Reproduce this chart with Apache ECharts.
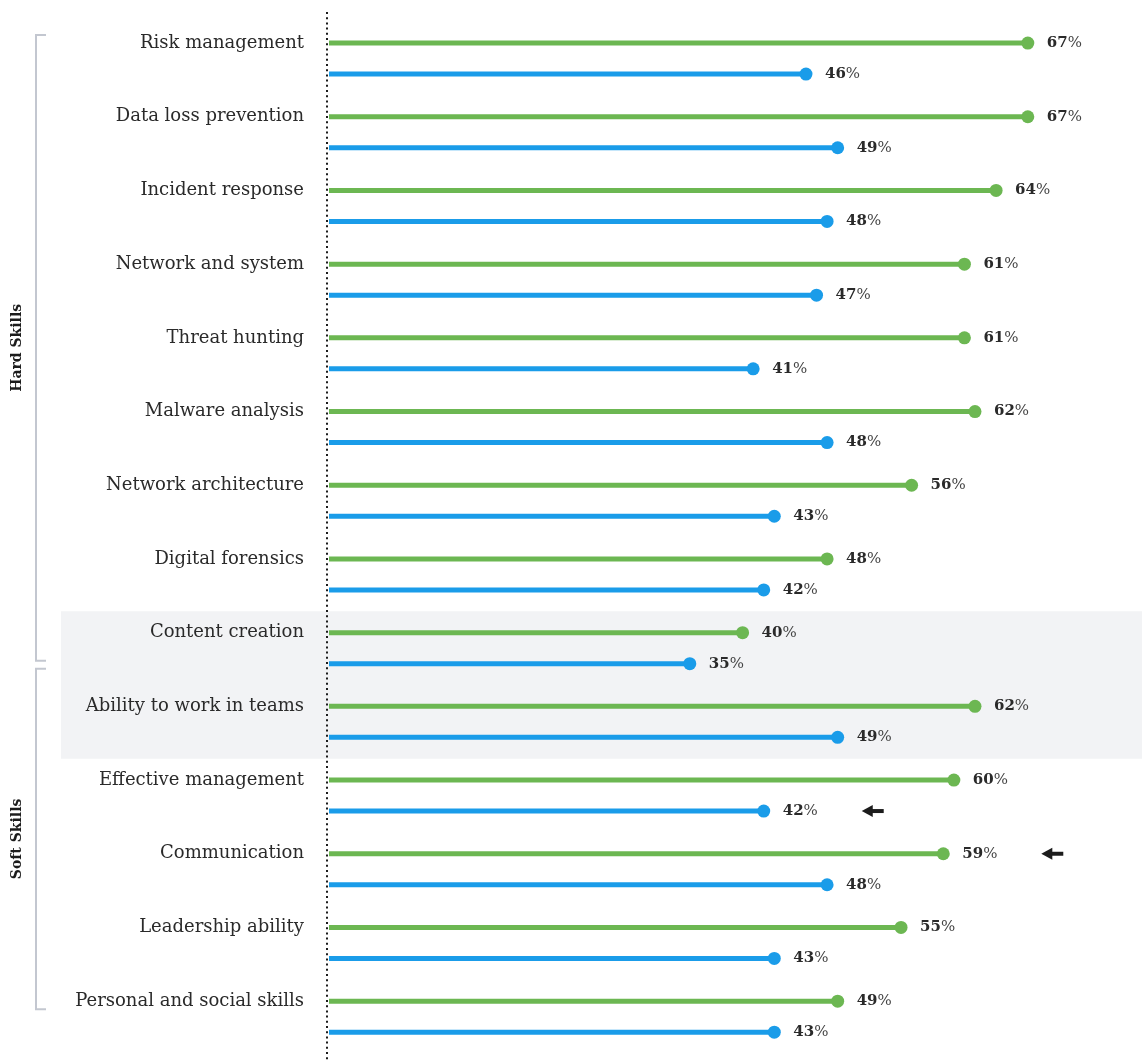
<!DOCTYPE html>
<html>
<head>
<meta charset="utf-8">
<script src="https://cdn.jsdelivr.net/npm/echarts@6/dist/echarts.min.js"></script>
<style>
  html, body { margin: 0; padding: 0; background: #ffffff; }
  #chart { width: 1142px; height: 1062px; }
</style>
</head>
<body>
<div id="chart"></div>
<script>
// Skills asked for, top to bottom
const skills = [
  'Risk management', 'Data loss prevention', 'Incident response', 'Network and system',
  'Threat hunting', 'Malware analysis', 'Network architecture', 'Digital forensics',
  'Content creation', 'Ability to work in teams', 'Effective management', 'Communication',
  'Leadership ability', 'Personal and social skills'
];
// Share in percent, upper (green) and lower (blue) row of each skill
const greenValues = [67, 67, 64, 61, 61, 62, 56, 48, 40, 62, 60, 59, 55, 49];
const blueValues  = [46, 49, 48, 47, 41, 48, 43, 42, 35, 49, 42, 48, 43, 43];

// Skills shaded in a grey band
const highlightedSkills = ['Content creation', 'Ability to work in teams'];
// Bracketed skill groups on the left
const skillGroups = [
  { name: 'Hard Skills', first: 'Risk management', last: 'Content creation' },
  { name: 'Soft Skills', first: 'Ability to work in teams', last: 'Personal and social skills' }
];
// Rows that carry an arrow pointer (row 0 = green, row 1 = blue)
const arrowRows = [
  { skill: 'Effective management', row: 1 },
  { skill: 'Communication', row: 0 }
];

const GREEN = '#6cb752';
const BLUE = '#1a9ce9';
const TEXT = '#2a2a2a';
const SERIF = '"DejaVu Serif", serif';
const X_MIN = 0.75;
const X_MAX = 75;
const ROW_OFFSET = 15.5;

function lollipopRenderer(rowIndex, color) {
  const offset = rowIndex === 0 ? -ROW_OFFSET : ROW_OFFSET;
  return function (params, api) {
    const value = api.value(0);
    const cat = api.value(1);
    const start = api.coord([X_MIN, cat]);
    const end = api.coord([value, cat]);
    const y = end[1] + offset;
    const children = [
      { type: 'line', shape: { x1: start[0] + 1, y1: y, x2: end[0], y2: y },
        style: { stroke: color, lineWidth: 5 } },
      { type: 'circle', shape: { cx: end[0], cy: y, r: 6.5 }, style: { fill: color } },
      { type: 'text', x: end[0] + 19, y: y,
        style: {
          text: '{b|' + value + '}{p|%}',
          verticalAlign: 'middle', align: 'left',
          rich: {
            b: { fontFamily: SERIF, fontWeight: 'bold', fontSize: 15, fill: TEXT },
            p: { fontFamily: SERIF, fontSize: 15, fill: '#444' }
          }
        } }
    ];
    const hasArrow = arrowRows.some(a => a.row === rowIndex && skills.indexOf(a.skill) === cat);
    if (hasArrow) {
      const tip = end[0] + 98;
      children.push(
        { type: 'polygon', shape: { points: [[tip, y], [tip + 11, y - 6], [tip + 11, y + 6]] },
          style: { fill: '#1c1c1c' } },
        { type: 'rect', shape: { x: tip + 10, y: y - 2, width: 12, height: 4 },
          style: { fill: '#1c1c1c' } }
      );
    }
    return { type: 'group', children: children };
  };
}

function highlightRenderer(params, api) {
  const cat = api.value(1);
  const center = api.coord([X_MIN, cat]);
  const band = api.size([0, 1])[1];
  return {
    type: 'rect',
    shape: { x: 61, y: center[1] - band / 2, width: 1142 - 61, height: band },
    style: { fill: '#f2f3f5' }
  };
}

const chart = echarts.init(document.getElementById('chart'), null, { renderer: 'canvas' });

chart.setOption({
  animation: false,
  backgroundColor: '#ffffff',
  grid: { left: 328, right: 29.7, top: 21.7, bottom: 8.5 },
  xAxis: { type: 'value', min: X_MIN, max: X_MAX, show: false },
  yAxis: {
    type: 'category', data: skills, inverse: true,
    axisLine: { show: false }, axisTick: { show: false }, splitLine: { show: false },
    axisLabel: {
      margin: 24, fontFamily: SERIF, fontSize: 18, color: TEXT,
      align: 'right', verticalAlign: 'middle', lineHeight: 2 * ROW_OFFSET,
      // an empty second line lifts the name onto the upper (green) row
      formatter: name => name + '\n '
    }
  },
  series: [
    {
      type: 'custom', name: 'highlight', z: 0, silent: true, clip: false,
      renderItem: highlightRenderer, encode: { x: 0, y: 1 },
      data: highlightedSkills.map(s => [X_MIN, skills.indexOf(s)])
    },
    {
      type: 'custom', name: 'green', z: 2, clip: false,
      renderItem: lollipopRenderer(0, GREEN), encode: { x: 0, y: 1 },
      data: greenValues.map((v, i) => [v, i])
    },
    {
      type: 'custom', name: 'blue', z: 2, clip: false,
      renderItem: lollipopRenderer(1, BLUE), encode: { x: 0, y: 1 },
      data: blueValues.map((v, i) => [v, i])
    }
  ]
});

// Axis baseline and group brackets, placed from the axis scales
const baseX = chart.convertToPixel({ xAxisIndex: 0 }, X_MIN) - 1;
const rowY = (skill, row) =>
  chart.convertToPixel({ yAxisIndex: 0 }, skills.indexOf(skill)) + (row === 0 ? -ROW_OFFSET : ROW_OFFSET);

const split = rowY('Content creation', 1) + 1;
const bounds = [
  { top: rowY(skillGroups[0].first, 0) - 8, bottom: split - 4 },
  { top: split + 4, bottom: rowY(skillGroups[1].last, 0) + 8 }
];

const graphics = [
  { type: 'line', z: 5, shape: { x1: baseX, y1: 12, x2: baseX, y2: 1062 },
    style: { stroke: '#1c1c1c', lineWidth: 2, lineDash: [2, 3.2] } }
];
skillGroups.forEach((g, i) => {
  const b = bounds[i];
  graphics.push({
    type: 'polyline', z: 5,
    shape: { points: [[46, b.top], [36, b.top], [36, b.bottom], [46, b.bottom]] },
    style: { stroke: '#c3c7d0', lineWidth: 2, fill: null }
  });
  graphics.push({
    type: 'text', z: 6, x: 17, y: (b.top + b.bottom) / 2, rotation: Math.PI / 2,
    style: {
      text: g.name, fontFamily: SERIF, fontWeight: 'bold', fontSize: 14,
      fill: '#1c1c1c', align: 'center', verticalAlign: 'middle'
    }
  });
});
chart.setOption({ graphic: graphics });
</script>
</body>
</html>
